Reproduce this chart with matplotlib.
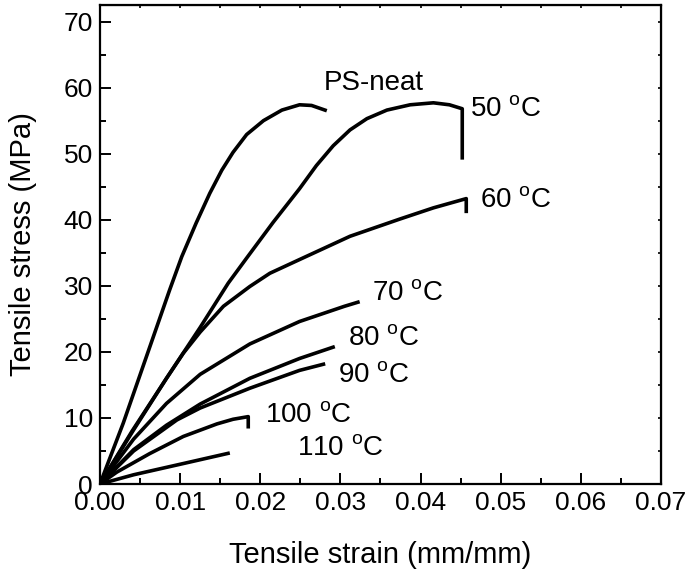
import matplotlib
matplotlib.use("Agg")
import matplotlib.pyplot as plt
from matplotlib.ticker import MultipleLocator, FormatStrFormatter

plt.rcParams['font.family'] = ['Liberation Sans', 'DejaVu Sans']
plt.rcParams['mathtext.fontset'] = 'custom'
plt.rcParams['mathtext.rm'] = 'Liberation Sans'
plt.rcParams['mathtext.it'] = 'Liberation Sans'

# PS-neat
ps_x = [0.0, 0.0029, 0.0058, 0.0087, 0.0102, 0.0120, 0.0137, 0.0152, 0.0166,
        0.0183, 0.0204, 0.0227, 0.0249, 0.0264, 0.0283]
ps_y = [0.0, 9.2, 19.3, 29.4, 34.4, 39.5, 44.0, 47.5, 50.2,
        52.9, 55.0, 56.6, 57.4, 57.3, 56.5]
# 50 C
t50_x = [0.0, 0.0040, 0.0083, 0.0125, 0.0160, 0.0183, 0.0216, 0.0249, 0.0270,
         0.0291, 0.0312, 0.0333, 0.0358, 0.0387, 0.0416, 0.0436, 0.0452, 0.0452]
t50_y = [0.0, 8.0, 16.0, 23.7, 30.4, 34.2, 39.6, 44.7, 48.2,
         51.2, 53.6, 55.3, 56.6, 57.4, 57.7, 57.4, 56.8, 49.1]
# 60 C
t60_x = [0.0, 0.0042, 0.0083, 0.0104, 0.0125, 0.0154, 0.0187, 0.0212, 0.0253,
         0.0312, 0.0374, 0.0416, 0.0457, 0.0457]
t60_y = [0.0, 8.2, 16.0, 19.8, 23.0, 26.9, 29.9, 31.9, 34.2,
         37.5, 40.1, 41.8, 43.2, 41.0]
# 70 C
t70_x = [0.0, 0.0042, 0.0083, 0.0125, 0.0187, 0.0249, 0.0305, 0.0324]
t70_y = [0.0, 6.8, 12.2, 16.6, 21.2, 24.6, 26.9, 27.6]
# 80 C
t80_x = [0.0, 0.0042, 0.0083, 0.0125, 0.0187, 0.0249, 0.0293]
t80_y = [0.0, 5.2, 8.9, 12.1, 16.0, 19.0, 20.8]
# 90 C
t90_x = [0.0, 0.0042, 0.0096, 0.0125, 0.0187, 0.0249, 0.0281]
t90_y = [0.0, 5.0, 9.7, 11.5, 14.5, 17.2, 18.2]
# 100 C
t100_x = [0.0, 0.0021, 0.0062, 0.0104, 0.0146, 0.0166, 0.0185, 0.0185]
t100_y = [0.0, 1.8, 4.6, 7.2, 9.1, 9.8, 10.2, 8.4]
# 110 C
t110_x = [0.0, 0.0042, 0.0104, 0.0162]
t110_y = [0.0, 1.4, 3.1, 4.7]

series = [(ps_x, ps_y), (t50_x, t50_y), (t60_x, t60_y), (t70_x, t70_y),
          (t80_x, t80_y), (t90_x, t90_y), (t100_x, t100_y), (t110_x, t110_y)]

labels = ['PS-neat', r'50 $^\mathregular{o}$C', r'60 $^\mathregular{o}$C', r'70 $^\mathregular{o}$C',
          r'80 $^\mathregular{o}$C', r'90 $^\mathregular{o}$C', r'100 $^\mathregular{o}$C', r'110 $^\mathregular{o}$C']
label_x = [0.0279, 0.0462, 0.0474, 0.0340, 0.0310, 0.0297, 0.0206, 0.0246]
label_y = [60.7, 56.8, 43.0, 28.9, 22.1, 16.5, 10.4, 5.5]

fig = plt.figure(figsize=(6.88, 5.78), dpi=100)
ax = fig.add_axes([0.1453, 0.1626, 0.8155, 0.8287])

for x, y in series:
    ax.plot(x, y, color='black', lw=2.6, solid_capstyle='butt', solid_joinstyle='round')

for t, lx, ly in zip(labels, label_x, label_y):
    ax.text(lx, ly, t, fontsize=20, ha='left', va='center')

ax.set_xlim(0, 0.07)
ax.set_ylim(0, 72.5)
ax.xaxis.set_major_locator(MultipleLocator(0.01))
ax.xaxis.set_minor_locator(MultipleLocator(0.005))
ax.yaxis.set_major_locator(MultipleLocator(10))
ax.yaxis.set_minor_locator(MultipleLocator(5))
ax.xaxis.set_major_formatter(FormatStrFormatter('%.2f'))

for s in ax.spines.values():
    s.set_linewidth(1.6)

ax.tick_params(which='both', direction='in', width=1.4, labelsize=19, top=False, right=False, pad=5)
ax.tick_params(which='major', length=8)
ax.tick_params(which='minor', length=4)

ax2 = ax.secondary_xaxis('top')
ax2.xaxis.set_major_locator(MultipleLocator(0.005))
ax2.tick_params(direction='in', length=2.5, width=1.2, labeltop=False)
ax3 = ax.secondary_yaxis('right')
ax3.yaxis.set_major_locator(MultipleLocator(5))
ax3.tick_params(direction='in', length=2.5, width=1.2, labelright=False)

ax.set_xlabel('Tensile strain (mm/mm)', fontsize=21, labelpad=19)
ax.set_ylabel('Tensile stress (MPa)', fontsize=21, labelpad=19)

fig.savefig('out.png', dpi=100)
